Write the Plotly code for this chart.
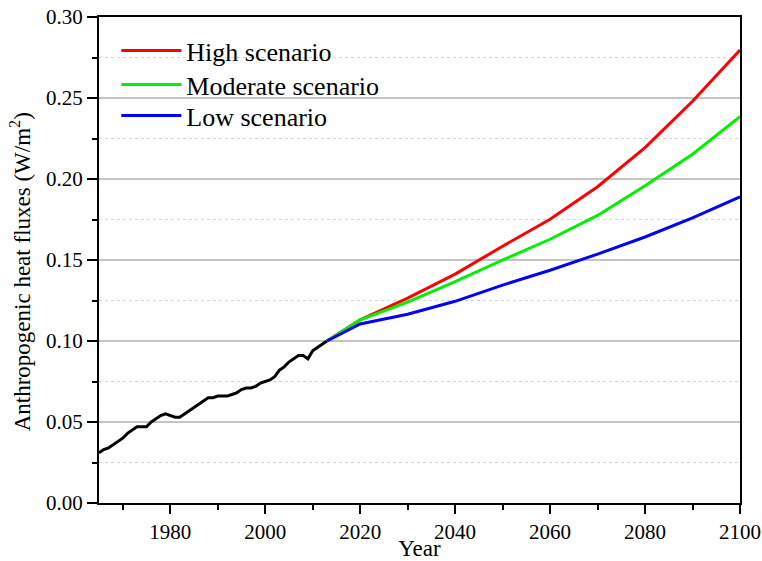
import plotly.graph_objects as go

# Historical anthropogenic heat flux (W/m^2)
hist_years = list(range(1965, 2014))
hist_values = [0.031, 0.033, 0.034, 0.036, 0.038, 0.040, 0.043, 0.045, 0.047, 0.047,
               0.047, 0.050, 0.052, 0.054, 0.055, 0.054, 0.053, 0.053, 0.055, 0.057,
               0.059, 0.061, 0.063, 0.065, 0.065, 0.066, 0.066, 0.066, 0.067, 0.068,
               0.070, 0.071, 0.071, 0.072, 0.074, 0.075, 0.076, 0.078, 0.082, 0.084,
               0.087, 0.089, 0.091, 0.091, 0.089, 0.094, 0.096, 0.098, 0.100]

# Scenario projections
scen_years = [2013, 2020, 2030, 2040, 2050, 2060, 2070, 2080, 2090, 2100]
high_values = [0.100, 0.113, 0.1265, 0.1413, 0.1585, 0.1752, 0.1952, 0.2194, 0.2480, 0.2796]
moderate_values = [0.100, 0.113, 0.1240, 0.1367, 0.1500, 0.1628, 0.1775, 0.1958, 0.2153, 0.2385]
low_values = [0.100, 0.1105, 0.1165, 0.1245, 0.1345, 0.1437, 0.1536, 0.1642, 0.1760, 0.1890]

x_ticks = [1980, 2000, 2020, 2040, 2060, 2080, 2100]
y_ticks = [0.00, 0.05, 0.10, 0.15, 0.20, 0.25, 0.30]

FONT = "Liberation Serif"

fig = go.Figure()
fig.add_trace(go.Scatter(x=hist_years, y=hist_values, mode="lines",
                         line=dict(color="black", width=3), showlegend=False))
fig.add_trace(go.Scatter(x=scen_years, y=high_values, mode="lines", name="High scenario",
                         line=dict(color="#ff0000", width=3), legend="legend"))
fig.add_trace(go.Scatter(x=scen_years, y=moderate_values, mode="lines", name="Moderate scenario",
                         line=dict(color="#00f000", width=3), legend="legend2"))
fig.add_trace(go.Scatter(x=scen_years, y=low_values, mode="lines", name="Low scenario",
                         line=dict(color="#0000ff", width=3), legend="legend3"))

leg_common = dict(xanchor="left", yanchor="top", bgcolor="rgba(0,0,0,0)",
                  font=dict(size=26, family=FONT), itemwidth=60)
LX = 0.027

fig.update_layout(
    width=762, height=561,
    margin=dict(l=99, r=22, t=17, b=58),
    paper_bgcolor="white", plot_bgcolor="white",
    font=dict(family=FONT, size=21, color="black"),
    showlegend=True,
    legend=dict(x=LX, y=0.9794, **leg_common),
    legend2=dict(x=LX, y=0.9095, **leg_common),
    legend3=dict(x=LX, y=0.8457, **leg_common),
    xaxis=dict(
        range=[1965, 2100], tickvals=x_ticks, showgrid=False, zeroline=False,
        automargin=False, ticklabeloverflow="allow",
        ticks="outside", ticklen=9, tickwidth=1.5, tickcolor="black",
        showline=True, linecolor="black", linewidth=2, mirror=True,
        minor=dict(tick0=1970, dtick=10, ticks="outside", ticklen=5, tickwidth=1.5, tickcolor="black"),
        title=dict(text="Year", font=dict(size=23, family=FONT), standoff=0),
        tickfont=dict(size=21, family=FONT),
    ),
    yaxis=dict(
        range=[0, 0.30], tickvals=y_ticks, tickformat=".2f", zeroline=False,
        automargin=False, ticklabeloverflow="allow",
        showgrid=True, gridcolor="#c4c4c4", gridwidth=1.5,
        ticks="outside", ticklen=10, tickwidth=1.5, tickcolor="black",
        showline=True, linecolor="black", linewidth=2, mirror=True,
        minor=dict(tick0=0.025, dtick=0.05, ticks="outside", ticklen=5, tickwidth=1.5,
                   tickcolor="black", showgrid=True, gridcolor="#d4d4d4", griddash="dot", gridwidth=1),
        tickfont=dict(size=21, family=FONT),
    ),
    annotations=[dict(
        text="Anthropogenic heat fluxes (W/m<sup>2</sup>)", textangle=-90,
        xref="paper", yref="paper", x=-0.123, y=0.475, xanchor="center", yanchor="middle",
        showarrow=False, font=dict(size=23, family=FONT, color="black"),
    )],
)

fig.write_html(
    "out.html",
    config={"displayModeBar": False},
    post_script="document.body.style.margin='0';document.body.style.overflow='hidden';",
)
